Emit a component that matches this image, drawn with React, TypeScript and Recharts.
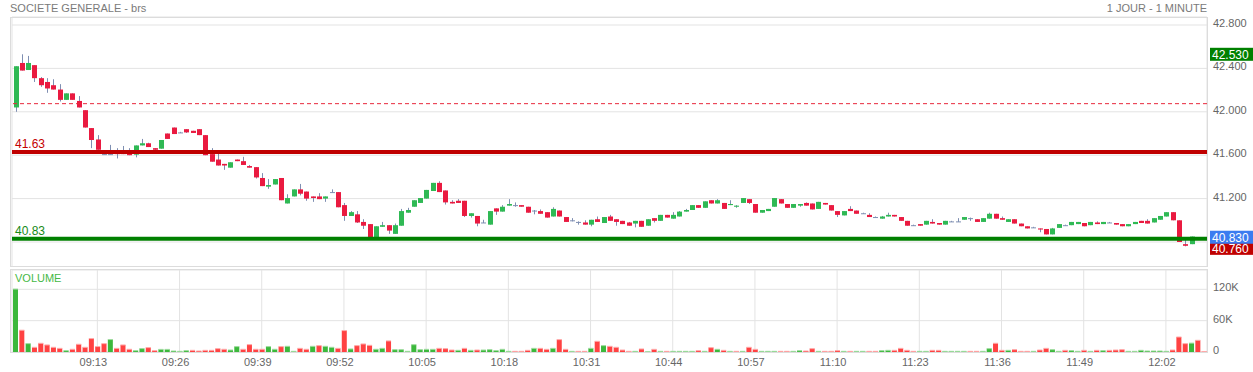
import { Bar, CartesianGrid, ComposedChart, ReferenceLine, XAxis, YAxis } from 'recharts'

// 1-minute candles, 09:00 -> 12:08
const OPEN = [
  42.04, 42.45, 42.385, 42.43, 42.31, 42.275, 42.245, 42.205, 42.11, 42.17,
  42.1, 42.015, 41.85, 41.745, 41.61, 41.61, 41.62, 41.63, 41.625, 41.605,
  41.69, 41.71, 41.665, 41.66, 41.8, 41.855, 41.81, 41.84, 41.825, 41.84,
  41.785, 41.61, 41.56, 41.52, 41.485, 41.56, 41.545, 41.5, 41.49, 41.39,
  41.31, 41.33, 41.39, 41.155, 41.22, 41.285, 41.265, 41.22, 41.22, 41.2,
  41.26, 41.26, 41.14, 41.04, 41.055, 40.985, 40.965, 40.84, 40.94, 40.955,
  40.875, 40.95, 41.07, 41.125, 41.16, 41.2, 41.27, 41.345, 41.275, 41.17,
  41.18, 41.18, 41.04, 41.04, 40.98, 40.96, 41.11, 41.08, 41.135, 41.14,
  41.14, 41.125, 41.09, 41.085, 41.075, 41.035, 41.09, 41.03, 41.0, 40.985,
  40.98, 40.96, 41.01, 40.975, 41.035, 41.01, 40.995, 40.98, 40.97, 40.995,
  40.95, 41.02, 40.995, 41.05, 41.015, 41.035, 41.08, 41.095, 41.14, 41.115,
  41.185, 41.155, 41.16, 41.14, 41.125, 41.16, 41.195, 41.15, 41.07, 41.085,
  41.125, 41.195, 41.15, 41.115, 41.135, 41.16, 41.155, 41.105, 41.16, 41.14,
  41.085, 41.045, 41.105, 41.09, 41.065, 41.05, 41.03, 41.015, 41.035, 41.05,
  41.03, 40.995, 40.955, 40.965, 40.96, 40.985, 40.975, 40.96, 40.99, 40.99,
  41.005, 41.02, 41.01, 40.985, 41.015, 41.06, 41.02, 40.985, 41.01, 40.97,
  40.945, 40.935, 40.925, 40.92, 40.87, 40.93, 40.955, 40.955, 40.965, 40.975,
  40.955, 40.98, 40.965, 40.98, 40.975, 40.965, 40.945, 40.965, 40.995, 40.995,
  40.98, 41.005, 41.035, 41.075, 41.0, 40.78, 40.78, 40.84, 40.83,
]

const CLOSE = [
  42.42, 42.38, 42.45, 42.31, 42.245, 42.215, 42.205, 42.11, 42.17, 42.11,
  42.04, 41.855, 41.74, 41.65, 41.61, 41.61, 41.61, 41.61, 41.6, 41.69,
  41.71, 41.675, 41.65, 41.74, 41.75, 41.795, 41.81, 41.81, 41.805, 41.785,
  41.6, 41.54, 41.505, 41.505, 41.535, 41.545, 41.51, 41.485, 41.395, 41.315,
  41.325, 41.38, 41.185, 41.205, 41.285, 41.245, 41.2, 41.205, 41.195, 41.22,
  41.26, 41.12, 41.04, 41.075, 40.98, 40.95, 40.84, 40.945, 40.955, 40.905,
  40.955, 41.085, 41.095, 41.185, 41.205, 41.28, 41.345, 41.26, 41.165, 41.155,
  41.16, 41.04, 41.065, 40.97, 40.98, 41.085, 41.08, 41.125, 41.15, 41.14,
  41.125, 41.07, 41.09, 41.06, 41.025, 41.105, 41.035, 40.985, 41.0, 40.985,
  40.96, 41.005, 40.985, 41.03, 40.995, 40.985, 40.965, 40.95, 40.995, 40.94,
  41.01, 40.995, 41.05, 41.025, 41.05, 41.08, 41.095, 41.14, 41.115, 41.175,
  41.155, 41.185, 41.105, 41.15, 41.135, 41.205, 41.16, 41.07, 41.095, 41.105,
  41.205, 41.155, 41.115, 41.15, 41.15, 41.135, 41.1, 41.17, 41.145, 41.09,
  41.05, 41.085, 41.085, 41.06, 41.065, 41.03, 41.03, 41.035, 41.05, 41.035,
  40.995, 40.95, 40.955, 40.95, 40.995, 40.97, 40.96, 40.995, 40.99, 40.99,
  41.03, 41.02, 40.985, 41.02, 41.06, 41.015, 41.005, 41.01, 40.97, 40.945,
  40.925, 40.935, 40.915, 40.87, 40.925, 40.965, 40.955, 40.985, 40.985, 40.945,
  40.985, 40.965, 40.985, 40.98, 40.96, 40.945, 40.965, 40.985, 40.975, 40.97,
  41.02, 41.04, 41.075, 41.0, 40.8, 40.765, 40.85, 40.83, 40.83,
]

const HIGH = [
  42.42, 42.53, 42.515, 42.43, 42.32, 42.31, 42.3, 42.255, 42.17, 42.17,
  42.145, 42.015, 41.85, 41.785, 41.62, 41.695, 41.665, 41.685, 41.665, 41.69,
  41.75, 41.715, 41.665, 41.74, 41.8, 41.855, 41.815, 41.84, 41.825, 41.84,
  41.785, 41.665, 41.615, 41.52, 41.535, 41.56, 41.585, 41.51, 41.49, 41.435,
  41.38, 41.38, 41.39, 41.24, 41.285, 41.335, 41.265, 41.22, 41.25, 41.22,
  41.285, 41.26, 41.16, 41.085, 41.085, 41.01, 40.965, 40.945, 40.985, 40.955,
  40.97, 41.105, 41.115, 41.185, 41.205, 41.28, 41.345, 41.36, 41.275, 41.185,
  41.195, 41.18, 41.065, 41.04, 41.005, 41.085, 41.11, 41.14, 41.195, 41.165,
  41.14, 41.125, 41.095, 41.1, 41.075, 41.12, 41.09, 41.03, 41.02, 40.99,
  41.0, 41.005, 41.035, 41.03, 41.05, 41.01, 40.995, 40.985, 40.995, 40.995,
  41.01, 41.02, 41.05, 41.05, 41.075, 41.085, 41.105, 41.14, 41.14, 41.175,
  41.185, 41.195, 41.16, 41.185, 41.14, 41.205, 41.195, 41.15, 41.095, 41.105,
  41.205, 41.195, 41.15, 41.15, 41.15, 41.165, 41.155, 41.17, 41.16, 41.14,
  41.085, 41.085, 41.13, 41.09, 41.07, 41.065, 41.035, 41.04, 41.07, 41.05,
  41.03, 40.995, 40.96, 40.965, 40.995, 41.01, 40.975, 40.995, 40.995, 41.02,
  41.03, 41.025, 41.01, 41.02, 41.07, 41.06, 41.035, 41.01, 41.01, 40.97,
  40.945, 40.94, 40.925, 40.92, 40.93, 40.965, 40.96, 40.985, 40.985, 40.975,
  40.985, 40.99, 40.985, 40.985, 40.975, 40.965, 40.965, 40.985, 40.995, 41.01,
  41.02, 41.04, 41.075, 41.075, 41.0, 40.83, 40.85, 40.84, 40.835,
]

const LOW = [
  42.0, 42.38, 42.385, 42.275, 42.23, 42.175, 42.205, 42.095, 42.11, 42.11,
  42.04, 41.855, 41.665, 41.65, 41.605, 41.605, 41.57, 41.61, 41.6, 41.58,
  41.69, 41.675, 41.645, 41.66, 41.75, 41.795, 41.805, 41.805, 41.805, 41.785,
  41.6, 41.54, 41.505, 41.465, 41.485, 41.545, 41.51, 41.485, 41.385, 41.315,
  41.29, 41.33, 41.185, 41.155, 41.22, 41.23, 41.18, 41.17, 41.195, 41.17,
  41.255, 41.12, 40.995, 41.04, 40.975, 40.92, 40.84, 40.84, 40.94, 40.875,
  40.875, 40.95, 41.07, 41.125, 41.16, 41.2, 41.27, 41.26, 41.145, 41.155,
  41.16, 41.03, 41.025, 40.945, 40.975, 40.96, 41.05, 41.08, 41.135, 41.125,
  41.125, 41.07, 41.055, 41.06, 41.025, 41.035, 41.035, 40.985, 40.99, 40.96,
  40.96, 40.945, 40.985, 40.975, 40.995, 40.95, 40.965, 40.95, 40.935, 40.94,
  40.95, 40.98, 40.995, 41.025, 41.015, 41.035, 41.08, 41.095, 41.115, 41.115,
  41.155, 41.155, 41.105, 41.14, 41.115, 41.16, 41.15, 41.07, 41.07, 41.085,
  41.125, 41.155, 41.115, 41.115, 41.125, 41.135, 41.1, 41.105, 41.145, 41.09,
  41.03, 41.045, 41.085, 41.06, 41.06, 41.03, 41.025, 41.015, 41.035, 41.035,
  40.995, 40.95, 40.95, 40.95, 40.96, 40.97, 40.96, 40.96, 40.985, 40.985,
  41.005, 40.995, 40.985, 40.985, 41.015, 41.015, 41.005, 40.985, 40.97, 40.945,
  40.925, 40.93, 40.89, 40.87, 40.87, 40.93, 40.95, 40.955, 40.965, 40.945,
  40.955, 40.965, 40.965, 40.975, 40.96, 40.945, 40.945, 40.965, 40.975, 40.97,
  40.98, 41.005, 41.035, 41.0, 40.8, 40.76, 40.78, 40.83, 40.83,
]

// volume in thousands of shares
const VOLUME = [
  120.5, 41.7, 16, 9, 16.7, 13.5, 9, 7, 2.6, 5.2,
  14.8, 9, 25.7, 10.4, 16, 23.8, 7, 13.5, 5.2, 2.6,
  6.5, 8.4, 2.6, 5, 5, 1.9, 1.3, 2.6, 3.2, 1.9,
  3.2, 3.2, 6.4, 5.2, 3.8, 10.3, 5.2, 14.1, 5.2, 5.2,
  10.3, 5.2, 10.3, 10.9, 1.3, 7, 5.2, 10.9, 12.2, 10.9,
  9, 7, 41, 5.8, 12.2, 15.4, 12.8, 5.2, 7, 21.2,
  4.5, 4.5, 1.3, 14, 4.5, 5.1, 5.1, 7, 6.4, 3.8,
  3.2, 7, 3.2, 3.8, 3.8, 4.5, 2.6, 5.1, 1.3, 1.3,
  1.3, 3.2, 7, 7, 5.1, 7, 23.7, 5.1, 1.3, 1.3,
  1.3, 7, 20.5, 12.2, 10.9, 9, 3.8, 1.3, 1.3, 5.8,
  0.6, 5.1, 1.3, 1.3, 1.3, 1.3, 1.3, 1.3, 2.6, 1.3,
  8.3, 5.1, 3.2, 1.3, 1.3, 1.3, 9, 5.1, 1.3, 1.3,
  1.3, 1.3, 1.3, 1.3, 2.6, 1.9, 6.4, 1.3, 1.3, 1.3,
  2.6, 1.3, 1.3, 1.3, 1.3, 1.3, 1.3, 2.6, 3.2, 3.2,
  7, 3.2, 1.3, 1.3, 1.3, 3.2, 3.2, 1.3, 1.3, 1.3,
  1.3, 1.3, 1.3, 1.3, 6.4, 16.7, 3.2, 3.2, 4.5, 1.3,
  1.3, 1.3, 3.8, 7, 4.5, 1.3, 3.2, 2.6, 1.3, 3.2,
  1.3, 3.2, 2.6, 3.2, 3.8, 4.5, 1.3, 1.3, 3.2, 1.9,
  1.9, 1.9, 1.3, 3.8, 28.7, 16, 17, 22.4, 1,
]

// u = up tick, d = down tick (volume bar colour)
const VOLUME_SIDE = [
  'ududddddud', 'dddddudddu', 'udduuuuudd', 'dddduudddd', 'uuduuddudu',
  'udduddduud', 'uuuuuuuddd', 'ududuuuuud', 'ddudduddud', 'dududdddud',
  'ududuuuudu', 'dudududduu', 'udduuddudd', 'duduudduud', 'ddduudduuu',
  'udduuddudd', 'dudduuduud', 'ududdduuuu', 'uuudddudd',
].join('').split('')

const TIME_TICKS = ['09:13', '09:26', '09:39', '09:52', '10:05', '10:18', '10:31', '10:44', '10:57', '11:10', '11:23', '11:36', '11:49', '12:02']
const PRICE_TICKS = [40.8, 41.2, 41.6, 42.0, 42.4, 42.8]
const VOLUME_TICKS = [0, 60, 120]

const PREV_CLOSE = 42.075
const RESISTANCE = 41.63
const SUPPORT = 40.83

const GREEN = '#2fb954'
const RED = '#ea1a40'
const WICK = '#7f8fb2'
const VOL_GREEN = '#3cb83c'
const VOL_RED = '#ff4242'
const GRID = '#e3e3e3'
const TICK = '#666'

const minuteLabel = (i: number) => {
  const m = 9 * 60 + i
  return `${String(Math.floor(m / 60)).padStart(2, '0')}:${String(m % 60).padStart(2, '0')}`
}

const data = OPEN.map((open, i) => ({
  t: minuteLabel(i),
  open,
  close: CLOSE[i],
  high: HIGH[i],
  low: LOW[i],
  volume: VOLUME[i],
  side: VOLUME_SIDE[i],
}))

const dayHigh = Math.max(...HIGH)
const dayLow = Math.min(...LOW)
const last = CLOSE[CLOSE.length - 1]

function Candle(props: any) {
  const { x, width, payload } = props
  let { y, height } = props
  if (x == null || y == null) return null
  if (height < 0) {
    y += height
    height = -height
  }
  const { open, close, high, low } = payload
  const k = high > low ? height / (high - low) : 0
  const py = (v: number) => y + (high - v) * k
  const cx = Math.round(x + width / 2) + 0.5
  const top = py(Math.max(open, close))
  const bottom = py(Math.min(open, close))
  const fill = close > open ? GREEN : close < open ? RED : WICK
  return (
    <g>
      <line x1={cx} x2={cx} y1={y} y2={y + height} stroke={WICK} strokeWidth={1} />
      <rect x={cx - 2.5} y={top} width={5} height={Math.max(bottom - top, 1)} fill={fill} />
    </g>
  )
}

function VolumeBar(props: any) {
  const { x, y, width, height, payload } = props
  if (x == null || y == null) return null
  const up = payload.side === 'u'
  return (
    <g>
      <rect x={x} y={y} width={width} height={height} fill={up ? VOL_GREEN : VOL_RED} />
      <rect x={x} y={y - 0.5} width={width} height={1} fill={up ? '#9fdc9f' : '#ffaaaa'} />
    </g>
  )
}

function LineLabel({ viewBox, text, color }: any) {
  if (!viewBox) return null
  return (
    <text x={viewBox.x + 3} y={viewBox.y - 4} fill={color} fontSize={12}>
      {text}
    </text>
  )
}

function PriceTag({ viewBox, text, fill, shift = 0 }: any) {
  if (!viewBox) return null
  const left = viewBox.x + viewBox.width + 3
  const cy = viewBox.y + shift
  return (
    <g>
      <rect x={left} y={cy - 6.5} width={43} height={13} fill={fill} />
      <text x={left + 2} y={cy + 4.5} fill="#fff" fontSize={12}>
        {text}
      </text>
    </g>
  )
}

const box = (top: number, height: number): React.CSSProperties => ({
  position: 'absolute',
  left: 10,
  top,
  width: 1198,
  height,
  border: '1px solid #dcdcdc',
  boxSizing: 'border-box',
  pointerEvents: 'none',
})

export default function App() {
  return (
    <div
      style={{
        position: 'absolute',
        left: 0,
        top: 0,
        width: 1253,
        height: 372,
        background: '#fff',
        fontFamily: '"Liberation Sans", Arial, sans-serif',
        overflow: 'hidden',
      }}
    >
      <div style={{ position: 'absolute', left: 10, top: 2, fontSize: 11, color: '#7a7a7a' }}>SOCIETE GENERALE - brs</div>
      <div style={{ position: 'absolute', right: 46, top: 2, fontSize: 11, color: '#7a7a7a' }}>1 JOUR - 1 MINUTE</div>

      <div style={{ position: 'absolute', left: 0, top: 0 }}>
        <ComposedChart width={1253} height={267} data={data} margin={{ top: 17, right: 1, bottom: 0, left: 12 }}>
          <CartesianGrid stroke={GRID} />
          <XAxis dataKey="t" ticks={TIME_TICKS} tick={false} axisLine={false} tickLine={false} height={0} />
          <YAxis
            orientation="right"
            width={45}
            domain={[40.5696, 42.8737]}
            allowDataOverflow
            ticks={PRICE_TICKS}
            // the 40.800 label sits under the last/low price tags
            tickFormatter={(v: number) => (v < 41 ? '' : v.toFixed(3))}
            tick={{ fill: TICK, fontSize: 11, dy: -2 }}
            axisLine={false}
            tickLine={false}
            tickSize={4}
            tickMargin={2}
          />
          <Bar dataKey={(d: any) => [d.low, d.high]} barSize={5} shape={<Candle />} isAnimationActive={false} />
          <ReferenceLine y={PREV_CLOSE} stroke="#e8283c" strokeDasharray="4 3" />
          <ReferenceLine
            y={RESISTANCE}
            stroke="#c00000"
            strokeWidth={4}
            label={<LineLabel text={RESISTANCE.toFixed(2)} color="#c40000" />}
          />
          <ReferenceLine
            y={SUPPORT}
            stroke="#008000"
            strokeWidth={4}
            label={<LineLabel text={SUPPORT.toFixed(2)} color="#168a16" />}
          />
          <ReferenceLine y={dayHigh} stroke="none" label={<PriceTag text={dayHigh.toFixed(3)} fill="#008000" />} />
          <ReferenceLine y={dayLow} stroke="none" label={<PriceTag text={dayLow.toFixed(3)} fill="#c00000" shift={2} />} />
          <ReferenceLine y={last} stroke="none" label={<PriceTag text={last.toFixed(3)} fill="#3b7cf0" shift={-1.5} />} />
        </ComposedChart>
      </div>
      <div style={box(17, 250)} />

      <div style={{ position: 'absolute', left: 0, top: 270 }}>
        <ComposedChart width={1253} height={102} data={data} margin={{ top: 0, right: 1, bottom: 0, left: 12 }}>
          <CartesianGrid stroke={GRID} />
          <XAxis
            dataKey="t"
            ticks={TIME_TICKS}
            height={20}
            axisLine={false}
            tickLine={false}
            tickSize={4}
            tickMargin={2}
            tick={{ fill: TICK, fontSize: 11, dx: -4 }}
          />
          <YAxis
            orientation="right"
            width={45}
            domain={[0, 157]}
            allowDataOverflow
            ticks={VOLUME_TICKS}
            tickFormatter={(v: number) => (v === 0 ? '0' : `${v}K`)}
            tick={{ fill: TICK, fontSize: 11, dy: -2 }}
            axisLine={false}
            tickLine={false}
            tickSize={4}
            tickMargin={2}
          />
          <Bar dataKey="volume" barSize={5} shape={<VolumeBar />} isAnimationActive={false} />
        </ComposedChart>
      </div>
      <div style={box(269, 84)} />
      <div style={{ position: 'absolute', left: 15, top: 272, fontSize: 11, color: '#46b946' }}>VOLUME</div>
    </div>
  )
}
